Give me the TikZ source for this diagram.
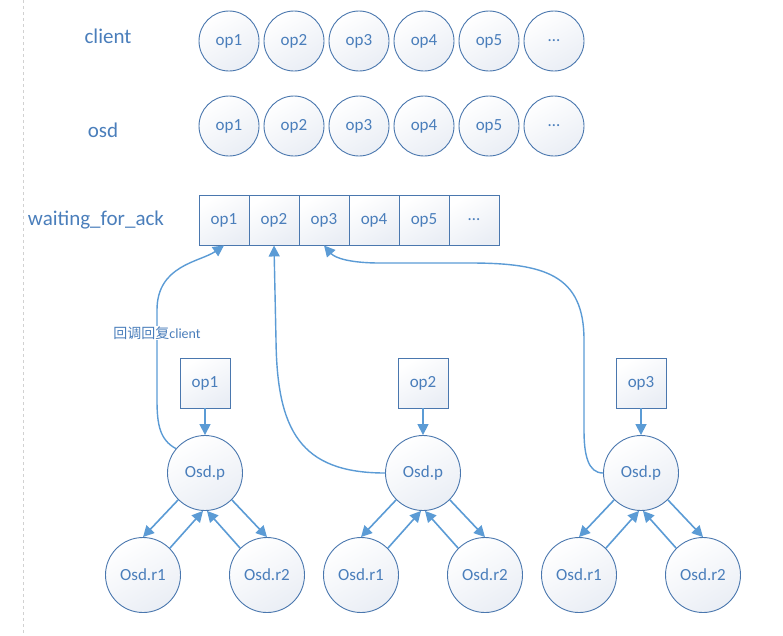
\documentclass[tikz,border=0pt]{standalone}
\usepackage{fontspec}
\setmainfont{Carlito}
\newfontfamily\cjkfont{Noto Sans CJK SC}
\usetikzlibrary{arrows.meta,positioning}
\definecolor{linecol}{HTML}{5B9BD5}
\definecolor{bordcol}{HTML}{4A77AE}
\definecolor{textcol}{HTML}{4A7EBB}
\definecolor{fillcol}{HTML}{EAEEF5}

\begin{document}
\begin{tikzpicture}[x=1pt,y=-1pt,
            opnode/.style={circle,draw=bordcol,line width=0.9pt,top color=white,bottom color=fillcol,shading angle=30,
                           text=textcol,font=\fontsize{17}{20}\selectfont,inner sep=0pt,minimum size=60pt},
            osdnode/.style={opnode,minimum size=75pt},
            cell/.style={rectangle,draw=bordcol,line width=0.9pt,top color=white,bottom color=fillcol,shading angle=30,
                         text=textcol,font=\fontsize{17}{20}\selectfont,inner sep=0pt,minimum size=50pt},
            rowlabel/.style={text=textcol,font=\fontsize{21}{25}\selectfont},
            conn/.style={draw=linecol,line width=1.6pt,-{Triangle[length=11pt,width=11pt]}}]
            \useasboundingbox (0,0) rectangle (783,635);
            \draw[black!18,dashed,line width=1pt] (23,0) -- (23,635);
            \node[rowlabel] (client) at (108,36) {client};
            \node[rowlabel] (osd) at (103,130) {osd};
            \node[rowlabel] (ack) at (96,220) {waiting\_for\_ack};
            \foreach \lbl [count=\i] in {op1,op2,op3,op4,op5,\ldots}{
               \node[opnode] (c\i) at (164+65*\i,41) {\lbl};
               \node[opnode] (o\i) at (164+65*\i,126) {\lbl};
               \node[cell] (q\i) at (174+50*\i,220) {\lbl};
            }
            \foreach \n/\x in {1/205,2/423,3/641}{
               \node[cell] (op\n) at (\x,383) {op\n};
               \node[osdnode] (p\n) at (\x,473) {Osd.p};
               \node[osdnode] (ra\n) at (\x-62,575) {Osd.r1};
               \node[osdnode] (rb\n) at (\x+62,575) {Osd.r2};
               \draw[conn] (op\n) -- (p\n);
               \draw[conn] (p\n.-135) -- (ra\n.north);
               \draw[conn] (ra\n.45) -- (p\n.-93);
               \draw[conn] (rb\n.135) -- (p\n.-87);
               \draw[conn] (p\n.-45) -- (rb\n.north);
            }
            \draw[conn,line width=1.4pt] (p1.140) .. controls (160,440) and (157,425) .. (157,400) -- (157,310)
                  .. controls (157,265) and (200,262) .. (q1.south);
            \node[fill=white,text=textcol,font=\fontsize{14}{16}\selectfont,inner sep=1pt] (callback) at (157,333) {{\cjkfont 回调回复}client};
            \draw[conn,line width=1.4pt] (p2.west) .. controls (300,473) and (277,430) .. (276,340) -- (q2.south);
            \draw[conn,line width=1.4pt] (p3.west) .. controls (588,473) and (584,455) .. (584,430) -- (584,340)
                  .. controls (584,275) and (545,263) .. (470,263) -- (380,263)
                  .. controls (350,263) and (335,258) .. (q3.south);
\end{tikzpicture}
\end{document}
